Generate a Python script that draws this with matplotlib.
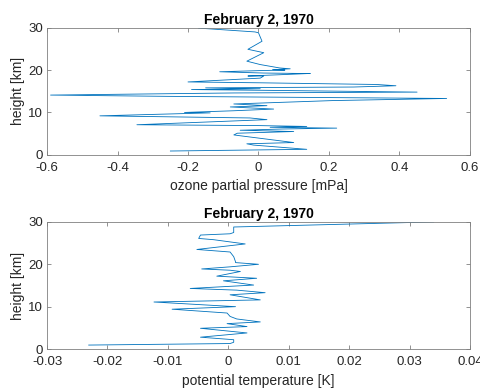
#! /usr/bin/env python3
#
import matplotlib
matplotlib.use('Agg')
import matplotlib.pyplot as plt
from matplotlib.ticker import FuncFormatter

# ozone partial pressure anomaly [mPa] vs height [km]
ozone_x = [-0.17, -0.01, 0.0, 0.01, -0.03, 0.015, -0.033, 0.005, 0.06, 0.09,
           0.04, 0.075, 0.015, -0.11, 0.015, 0.12, 0.147, 0.06, -0.03, 0.015,
           0.005, -0.2, 0.0, 0.335, 0.39, 0.27, -0.15, 0.005, -0.19, 0.043,
           0.45, -0.07, -0.59, -0.26, 0.534, 0.21, -0.07, 0.024, -0.08, 0.043,
           -0.07, -0.21, -0.137, -0.45, -0.024, 0.024, -0.345, 0.0, 0.137,
           0.033, 0.222, 0.07, -0.052, 0.1, -0.06, -0.07, -0.052, 0.1, -0.033,
           -0.014, 0.137, -0.25]
ozone_h = [29.9, 29.0, 28.8, 26.8, 24.9, 24.1, 22.1, 21.3, 20.5, 20.3,
           20.1, 20.0, 19.9, 19.6, 19.3, 19.2, 19.2, 18.9, 18.6, 18.6,
           18.1, 17.2, 17.0, 16.6, 16.3, 16.0, 15.8, 15.6, 15.4, 15.2,
           14.8, 14.6, 14.1, 13.8, 13.3, 12.8, 12.0, 11.6, 11.3, 10.8,
           10.4, 10.0, 9.9, 9.2, 8.7, 8.3, 7.1, 6.9, 6.7,
           6.5, 6.3, 6.1, 5.8, 5.5, 5.1, 4.7, 4.5, 2.9, 2.6,
           2.3, 1.3, 0.9]

# potential temperature anomaly [K] vs height [km]
theta_x = [0.034, 0.0009, 0.0009, 0.0003, -0.0046, -0.0049, -0.0024, 0.0028,
           -0.0052, 0.0003, 0.0009, 0.0012, 0.0012, 0.005, 0.0003, -0.0044,
           0.0003, 0.002, -0.0019, 0.0047, -0.0008, 0.0042, -0.0063, 0.0014,
           0.0061, 0.0003, 0.0053, -0.0123, 0.0012, -0.0093, -0.0002, 0.0003,
           0.0014, 0.0053, -0.0002, 0.0031, -0.0046, 0.0031, -0.0046, 0.0009,
           0.0009, 0.0003, -0.0231]
theta_h = [30.0, 28.8, 27.5, 27.2, 26.9, 26.1, 25.8, 24.8,
           23.5, 22.9, 21.8, 20.6, 20.4, 20.0, 19.4, 18.9,
           18.6, 18.3, 17.2, 16.7, 16.1, 15.1, 14.3, 13.9,
           13.3, 12.8, 11.6, 11.1, 10.0, 9.4, 8.5, 7.7,
           7.1, 6.4, 6.0, 5.3, 4.9, 3.8, 2.8, 2.2,
           1.6, 1.3, 0.94]

title = 'February 2, 1970'
line_color = '#0072BD'
grey = '#262626'

plt.rcParams['font.family'] = ['Liberation Sans', 'DejaVu Sans']
plt.rcParams['axes.unicode_minus'] = False

fig = plt.figure(figsize=(4.8, 3.9), dpi=100)
ax1 = fig.add_axes([0.098, 0.603, 0.881, 0.326])
ax2 = fig.add_axes([0.098, 0.105, 0.881, 0.326])


def style(ax, xlim, xticks, xlabel):
    ax.set_xlim(xlim)
    ax.set_ylim(0, 30)
    ax.set_xticks(xticks)
    ax.set_yticks([0, 10, 20, 30])
    ax.xaxis.set_major_formatter(FuncFormatter(lambda v, p: '%g' % round(v, 4)))
    ax.tick_params(direction='in', top=True, right=True, length=3,
                   width=0.6, color='#808080', labelsize=9.5, labelcolor=grey)
    ax.tick_params(axis='x', pad=5)
    ax.tick_params(axis='y', pad=3)
    for s in ax.spines.values():
        s.set_color('#808080')
        s.set_linewidth(0.6)
    ax.set_xlabel(xlabel, fontsize=10, color=grey, labelpad=4)
    ax.set_ylabel('height [km]', fontsize=10, color=grey, labelpad=2)
    ax.set_title(title, fontsize=10, fontweight='bold', color='black', pad=3)


ax1.plot(ozone_x, ozone_h, color=line_color, linewidth=0.6)
style(ax1, (-0.6, 0.6), [-0.6, -0.4, -0.2, 0, 0.2, 0.4, 0.6],
      'ozone partial pressure [mPa]')

ax2.plot(theta_x, theta_h, color=line_color, linewidth=0.6)
style(ax2, (-0.03, 0.04), [-0.03, -0.02, -0.01, 0, 0.01, 0.02, 0.03, 0.04],
      'potential temperature [K]')

fig.savefig('out.png', dpi=100)
